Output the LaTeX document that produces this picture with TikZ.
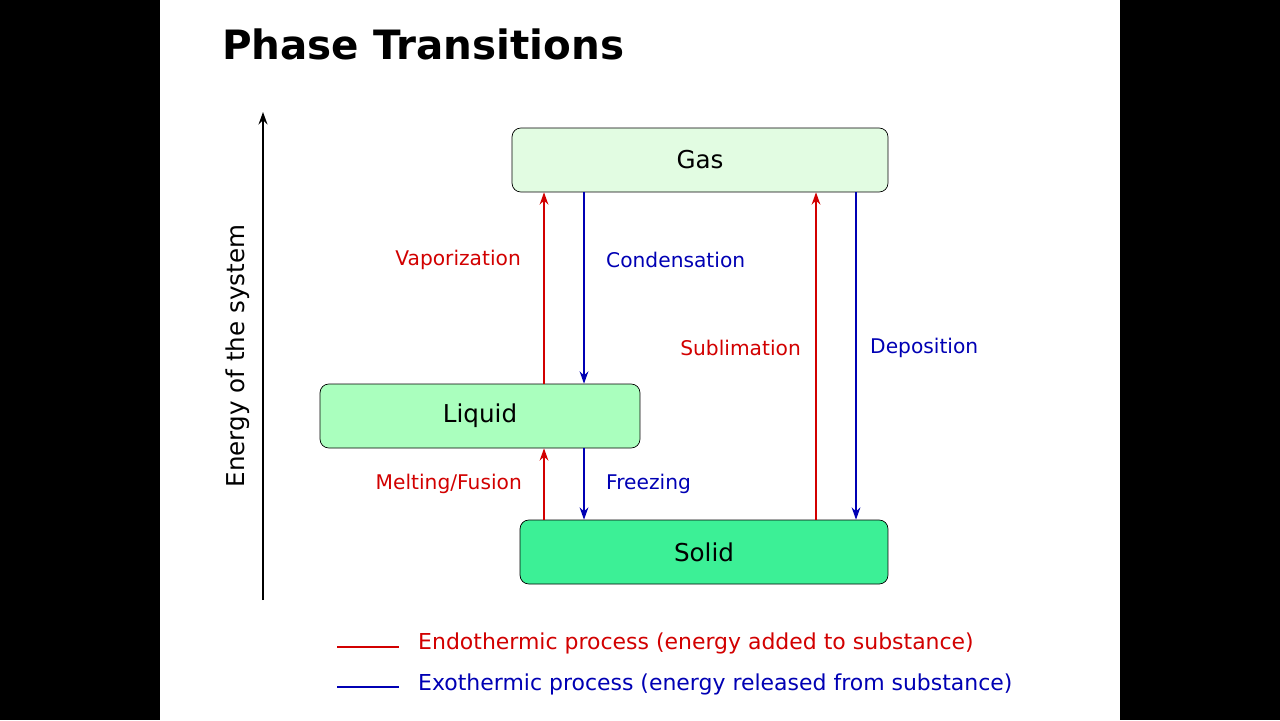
\documentclass[tikz,border=0pt]{standalone}
\usepackage{fontspec}
\setmainfont{DejaVu Sans}
\usetikzlibrary{arrows.meta,positioning}
\definecolor{endo}{RGB}{210,0,0}
\definecolor{exo}{RGB}{0,0,180}
\definecolor{gasfill}{RGB}{226,252,226}
\definecolor{liqfill}{RGB}{170,255,190}
\definecolor{solfill}{RGB}{60,240,150}
\begin{document}
\begin{tikzpicture}[x=0.02cm,y=-0.02cm,>={Stealth[length=7pt,width=5pt]},
phase/.style={draw,rounded corners=5pt,minimum height=1.28cm,font=\fontsize{14}{16}\selectfont,inner sep=0pt},
lbl/.style={font=\fontsize{11.5}{13}\selectfont},
up/.style={->,endo,thick},down/.style={->,exo,thick}]
\fill[black] (0,0) rectangle (1280,720);
\fill[white] (160,0) rectangle (1120,720);
\node[anchor=west,font=\bfseries\fontsize{23}{26}\selectfont] (title) at (216,44) {Phase Transitions};
% phases
\node[phase,fill=gasfill,minimum width=7.52cm] (gas) at (700,160) {Gas};
\node[phase,fill=liqfill,minimum width=6.4cm] (liquid) at (480,416) {Liquid};
\node[phase,fill=solfill,minimum width=7.36cm] (solid) at (704,552) {Solid};
% energy axis
\coordinate (e0) at (263,600);
\coordinate (e1) at (263,112);
\draw[->,line width=1.6pt,black] (e0) -- (e1);
\node[rotate=90,font=\fontsize{14}{16}\selectfont] (energy) at (238,356) {Energy of the system};
% transitions
\draw[up] (liquid.north -| 544,0) -- (gas.south -| 544,0);
\draw[down] (gas.south -| 584,0) -- (liquid.north -| 584,0);
\draw[up] (solid.north -| 544,0) -- (liquid.south -| 544,0);
\draw[down] (liquid.south -| 584,0) -- (solid.north -| 584,0);
\draw[up] (solid.north -| 816,0) -- (gas.south -| 816,0);
\draw[down] (gas.south -| 856,0) -- (solid.north -| 856,0);
\node[lbl,endo,anchor=east] (vap) at (527,260) {Vaporization};
\node[lbl,exo,anchor=west] (cond) at (600,260) {Condensation};
\node[lbl,endo,anchor=east] (subl) at (807,348) {Sublimation};
\node[lbl,exo,anchor=west] (depo) at (864,348) {Deposition};
\node[lbl,endo,anchor=east] (melt) at (528,484) {Melting/Fusion};
\node[lbl,exo,anchor=west] (freeze) at (600,484) {Freezing};
% legend
\coordinate (r0) at (337,647); \coordinate (r1) at (399,647);
\coordinate (b0) at (337,687); \coordinate (b1) at (399,687);
\draw[endo,thick] (r0) -- (r1);
\draw[exo,thick] (b0) -- (b1);
\node[lbl,endo,anchor=west,font=\fontsize{12.5}{14}\selectfont] (endotext) at (412,643) {Endothermic process (energy added to substance)};
\node[lbl,exo,anchor=west,font=\fontsize{12.5}{14}\selectfont] (exotext) at (412,684) {Exothermic process (energy released from substance)};
\end{tikzpicture}
\end{document}
